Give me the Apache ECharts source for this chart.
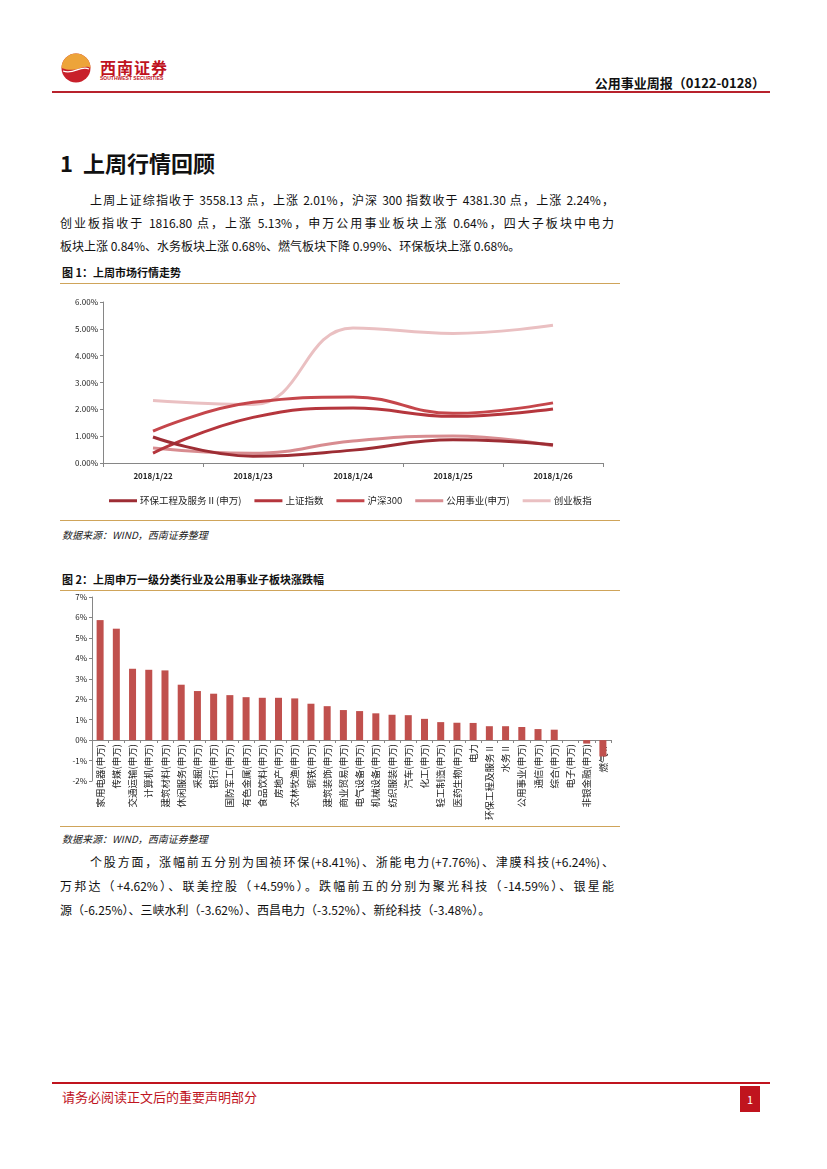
<!DOCTYPE html>
<html>
<head>
<meta charset="utf-8">
<title>公用事业周报</title>
<script src="https://cdn.jsdelivr.net/npm/echarts@6/dist/echarts.min.js"></script>
<style>
  html, body { margin: 0; padding: 0; background: #fff; }
  body { width: 827px; height: 1169px; position: relative; overflow: hidden;
         font-family: "Noto Sans CJK SC", "Noto Sans", sans-serif; color: #111; }
  .abs { position: absolute; white-space: nowrap; }
  .hline { position: absolute; height: 0; }
  .para { position: absolute; font-size: 12px; line-height: 16px; white-space: nowrap; }
  .just { text-align: justify; text-align-last: justify; white-space: normal; }
  .figtitle { position: absolute; font-size: 11px; font-weight: bold; }
  .src { position: absolute; font-size: 10px; font-style: italic; color: #222; }
</style>
</head>
<body>

<!-- 页眉 -->
<svg class="abs" style="left:60px;top:52px" width="32" height="32" viewBox="0 0 32 32">
  <circle cx="16" cy="16" r="14.5" fill="#c8202b"/>
  <path d="M1.5 16 A14.5 14.5 0 0 1 30.5 16 C 24 11, 17 22, 1.5 16 Z" fill="#eda43a"/>
  <path d="M3 19 C 14 23, 20 13, 29 17" stroke="#fff" stroke-width="1.2" fill="none"/>
</svg>
<div class="abs" style="left:100px;top:55px;font-size:16px;font-weight:bold;color:#c0141e;letter-spacing:1px;">西南证券</div>
<div class="abs" style="left:100px;top:75px;font-size:5px;font-weight:bold;color:#c0141e;font-family:'Liberation Sans',sans-serif;">SOUTHWEST SECURITIES</div>
<div class="abs" style="right:62px;top:73px;font-size:13px;font-weight:bold;">公用事业周报（0122-0128）</div>
<div class="hline" style="left:52px;width:718px;top:91px;border-top:2px solid #b8222c;"></div>

<!-- 标题与正文 -->
<div class="abs" style="left:60px;top:146px;font-size:22px;font-weight:bold;line-height:32px;">1</div>
<div class="abs" style="left:83px;top:146px;font-size:22px;font-weight:bold;line-height:32px;">上周行情回顾</div>
<div class="para just" style="left:90px;top:192px;width:524px;">上周上证综指收于 3558.13 点，上涨 2.01%，沪深 300 指数收于 4381.30 点，上涨 2.24%，</div>
<div class="para just" style="left:60px;top:215px;width:554px;">创业板指收于 1816.80 点，上涨 5.13%，申万公用事业板块上涨 0.64%，四大子板块中电力</div>
<div class="para" style="left:60px;top:238px;">板块上涨 0.84%、水务板块上涨 0.68%、燃气板块下降 0.99%、环保板块上涨 0.68%。</div>

<!-- 图1 -->
<div class="figtitle" style="left:62px;top:264px;">图 1：上周市场行情走势</div>
<div class="hline" style="left:60px;width:560px;top:283px;border-top:1.5px solid #cfa45a;"></div>
<div id="chart1" style="position:absolute;left:60px;top:290px;width:560px;height:228px;"></div>
<div class="hline" style="left:60px;width:560px;top:520px;border-top:1.5px solid #cfa45a;"></div>
<div class="src" style="left:62px;top:527px;">数据来源：WIND，西南证券整理</div>

<!-- 图2 -->
<div class="figtitle" style="left:62px;top:571px;">图 2：上周申万一级分类行业及公用事业子板块涨跌幅</div>
<div class="hline" style="left:60px;width:560px;top:590px;border-top:1.5px solid #cfa45a;"></div>
<div id="chart2" style="position:absolute;left:60px;top:592px;width:560px;height:234px;"></div>
<div class="hline" style="left:60px;width:560px;top:826px;border-top:1.5px solid #cfa45a;"></div>
<div class="src" style="left:62px;top:831px;">数据来源：WIND，西南证券整理</div>

<div class="para just" style="left:90px;top:854px;width:524px;">个股方面，涨幅前五分别为国祯环保(+8.41%)、浙能电力(+7.76%)、津膜科技(+6.24%)、</div>
<div class="para just" style="left:60px;top:878px;width:554px;">万邦达（+4.62%）、联美控股（+4.59%）。跌幅前五的分别为聚光科技（-14.59%）、银星能</div>
<div class="para" style="left:60px;top:902px;">源（-6.25%）、三峡水利（-3.62%）、西昌电力（-3.52%）、新纶科技（-3.48%）。</div>

<!-- 页脚 -->
<div class="hline" style="left:52px;width:718px;top:1082px;border-top:2px solid #c0141e;"></div>
<div class="abs" style="left:62px;top:1087px;font-size:13px;color:#c0141e;">请务必阅读正文后的重要声明部分</div>
<div class="abs" style="left:740px;top:1086px;width:20px;height:26px;background:#c0141e;color:#fff;font-size:11px;line-height:26px;text-align:center;">1</div>

<script type="text/javascript">
  // 图1：上周市场行情走势（%）
  var dates = ['2018/1/22', '2018/1/23', '2018/1/24', '2018/1/25', '2018/1/26'];
  var hbData  = [0.97, 0.25, 0.48, 0.87, 0.68];   // 环保工程及服务Ⅱ(申万)
  var szData  = [0.37, 1.70, 2.05, 1.74, 2.01];   // 上证指数
  var hsData  = [1.19, 2.26, 2.46, 1.85, 2.24];   // 沪深300
  var gyData  = [0.56, 0.36, 0.82, 1.01, 0.64];   // 公用事业(申万)
  var cybData = [2.33, 2.18, 5.03, 4.83, 5.13];   // 创业板指

  var lineNames  = ['环保工程及服务Ⅱ(申万)', '上证指数', '沪深300', '公用事业(申万)', '创业板指'];
  var lineColors = ['#9d2d34', '#b5363d', '#c5464b', '#d88c90', '#eac0c2'];

  // 图2：申万一级行业及公用事业子板块涨跌幅（%）
  var industries = ['家用电器(申万)', '传媒(申万)', '交通运输(申万)', '计算机(申万)', '建筑材料(申万)',
    '休闲服务(申万)', '采掘(申万)', '银行(申万)', '国防军工(申万)', '有色金属(申万)', '食品饮料(申万)',
    '房地产(申万)', '农林牧渔(申万)', '钢铁(申万)', '建筑装饰(申万)', '商业贸易(申万)', '电气设备(申万)',
    '机械设备(申万)', '纺织服装(申万)', '汽车(申万)', '化工(申万)', '轻工制造(申万)', '医药生物(申万)',
    '电力', '环保工程及服务Ⅱ', '水务Ⅱ', '公用事业(申万)', '通信(申万)', '综合(申万)', '电子(申万)',
    '非银金融(申万)', '燃气Ⅱ'];
  var changes = [5.87, 5.45, 3.49, 3.44, 3.41, 2.71, 2.40, 2.27, 2.20, 2.10, 2.07,
    2.07, 2.04, 1.78, 1.66, 1.47, 1.42, 1.31, 1.24, 1.22, 1.04, 0.88, 0.85,
    0.84, 0.68, 0.68, 0.64, 0.54, 0.51, 0.00, -0.17, -0.80];
  var barMin = -2, barMax = 7;

  var axisGray = '#868686';
  var labelFont = '"Noto Sans CJK SC", "Lato", sans-serif';

  var lineChart = echarts.init(document.getElementById('chart1'));
  var seriesData = [hbData, szData, hsData, gyData, cybData];
  var lineSeries = [];
  for (var i = 0; i < lineNames.length; i++) {
    lineSeries.push({
      name: lineNames[i],
      type: 'line',
      smooth: 0.45,
      symbol: 'none',
      lineStyle: { width: 3, color: lineColors[i] },
      itemStyle: { color: lineColors[i] },
      z: 10 - i,
      data: seriesData[i]
    });
  }
  lineChart.setOption({
    animation: false,
    grid: { left: 43, right: 17, top: 12, bottom: 55, containLabel: false, outerBoundsMode: 'none' },
    legend: {
      data: lineNames,
      left: 44,
      top: 201,
      icon: 'rect',
      itemWidth: 28,
      itemHeight: 3,
      itemGap: 13,
      textStyle: { fontSize: 9.5, color: '#222', fontFamily: labelFont, padding: [0, 0, 0, -2] }
    },
    xAxis: {
      type: 'category',
      data: dates,
      boundaryGap: true,
      axisLine: { lineStyle: { color: axisGray } },
      axisTick: { show: true, length: 4, lineStyle: { color: axisGray } },
      axisLabel: { fontSize: 8, color: '#222', fontWeight: 'bold', margin: 9, fontFamily: labelFont }
    },
    yAxis: {
      type: 'value',
      min: 0,
      max: 6,
      interval: 1,
      splitLine: { show: false },
      axisLine: { show: true, lineStyle: { color: axisGray } },
      axisTick: { show: true, length: 3, lineStyle: { color: axisGray } },
      axisLabel: {
        fontSize: 8, color: '#222', margin: 5, fontFamily: labelFont,
        formatter: function (v) { return v.toFixed(2) + '%'; }
      }
    },
    series: lineSeries
  });

  // 横轴放在 0% 处：按绘图区高度计算向上的偏移
  var grid2 = { left: 32, right: 9, top: 5, bottom: 45 };
  var plotH = 234 - grid2.top - grid2.bottom;
  var zeroOffset = -Math.round(plotH * (0 - barMin) / (barMax - barMin));

  var barChart = echarts.init(document.getElementById('chart2'));
  barChart.setOption({
    animation: false,
    grid: { left: grid2.left, right: grid2.right, top: grid2.top, bottom: grid2.bottom,
            containLabel: false, outerBoundsMode: 'none' },
    xAxis: {
      type: 'category',
      data: industries,
      offset: zeroOffset,
      axisLine: { onZero: false, lineStyle: { color: axisGray } },
      axisTick: { show: true, length: 3, interval: 0, lineStyle: { color: axisGray } },
      axisLabel: { rotate: 90, interval: 0, fontSize: 9.5, color: '#222', margin: 4, fontFamily: labelFont }
    },
    yAxis: {
      type: 'value',
      min: barMin,
      max: barMax,
      interval: 1,
      splitLine: { show: false },
      axisLine: { show: true, lineStyle: { color: axisGray } },
      axisTick: { show: true, length: 3, lineStyle: { color: axisGray } },
      axisLabel: { fontSize: 8, color: '#222', margin: 5, fontFamily: labelFont, formatter: '{value}%' }
    },
    series: [{
      type: 'bar',
      data: changes,
      barWidth: 7,
      z: 3,
      itemStyle: { color: '#c0504d' }
    }]
  });
</script>
</body>
</html>
